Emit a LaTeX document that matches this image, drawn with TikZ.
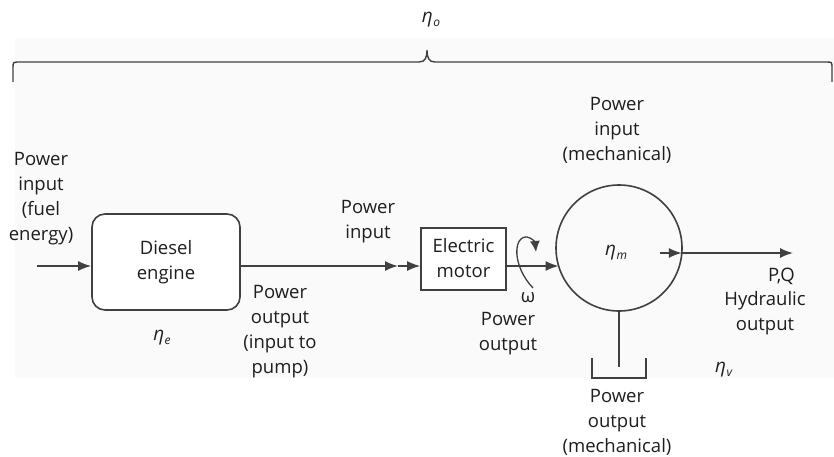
\documentclass[tikz,border=0pt]{standalone}
\usepackage{fontspec}
\setmainfont{Open Sans}
\usetikzlibrary{arrows.meta}
\definecolor{linec}{HTML}{404040}
\definecolor{txtc}{HTML}{1E1E1E}
\definecolor{bgc}{HTML}{FAFAFA}
\newcommand{\etaof}[1]{\textit{η}\kern0.5pt\raisebox{-0.35ex}{\fontsize{12}{12}\selectfont\textit{#1}}}
\tikzset{
  lbl/.style={align=center,text=txtc,font=\fontsize{18.5}{25}\selectfont,inner sep=0pt},
  etal/.style={text=txtc,font=\fontsize{19}{22}\selectfont,inner sep=0pt},
  ln/.style={draw=linec,line width=1.6pt},
  arr/.style={ln,-{Latex[length=13pt,width=10pt]}},
  blockbox/.style={ln,fill=white,inner sep=0pt}
}
\begin{document}
\begin{tikzpicture}[x=1pt,y=-1pt]
\useasboundingbox (0,0) rectangle (834,457);
\fill[bgc] (15,38) rectangle (834,378);
% brace
\draw[ln,line width=1.4pt] (13,82) -- (13,68) .. controls (13,62) .. (20,62) -- (419,62) .. controls (425,62) and (427,58) .. (427,50) .. controls (427,58) and (429,62) .. (435,62) -- (826,62) .. controls (832,62) .. (832,68) -- (832,82);
\node[etal] (etao) at (431,20) {\etaof{o}};
% left input
\node[lbl] (lin) at (41,199) {Power\\input\\(fuel\\energy)};
\coordinate (in) at (37,266);
\node[blockbox,rounded corners=13pt,minimum width=148pt,minimum height=96pt] (diesel) at (166,262) {};
\node[lbl] (dieseltxt) at (166,262) {Diesel\\engine};
\draw[arr] (in) -- (in -| diesel.west);
\node[etal] (etae) at (162,338) {\etaof{e}};
\node[lbl] (pout) at (280,332) {Power\\output\\(input to\\pump)};
% electric motor
\node[blockbox,minimum width=85pt,minimum height=62pt] (motor) at (463.5,259) {};
\node[lbl] (motortxt) at (463.5,258) {Electric\\motor};
\node[lbl] (pin) at (368,222) {Power\\input};
\coordinate (mid) at (398,266);
\draw[arr] (diesel.east |- in) -- (mid);
\draw[arr] (mid) -- (motor.west |- in);
% pump
\node[ln,circle,minimum size=126pt,inner sep=0pt] (pump) at (619,248) {};
\node[etal] (etam) at (616,253) {\etaof{m}};
\coordinate (pumpin) at (558.6,266);
\draw[arr] (motor.east |- in) -- (pumpin);
% rotation
\draw[ln,line width=1.3pt,-{Latex[length=11pt,width=10pt]}] (533,288) .. controls (512,266) and (513,236) .. (527,237) .. controls (532,238) and (535,242) .. (536,252);
\node[lbl] (omega) at (528,298) {ω};
\node[lbl] (mout) at (508,334) {Power\\output};
\node[lbl] (pmin) at (617,130) {Power\\input\\(mechanical)};
% hydraulic out
\coordinate (hs) at (660,253);
\coordinate (hedge) at (681.8,253);
\coordinate (hend) at (793,253);
\draw[arr] (hs) -- (hedge);
\draw[arr] (hedge) -- (hend);
\node[lbl,anchor=east] (pq) at (795,276) {P,Q};
\node[lbl] (hyd) at (765,313) {Hydraulic\\output};
% stem and cup
\coordinate (stem) at (619,367);
\draw[ln] (pump.south) -- (stem);
\draw[ln] (592,358) -- (592,378) -- (646,378) -- (646,358);
\node[lbl] (pmout) at (617,422) {Power\\output\\(mechanical)};
\node[etal] (etav) at (724,370) {\etaof{v}};
\end{tikzpicture}
\end{document}
